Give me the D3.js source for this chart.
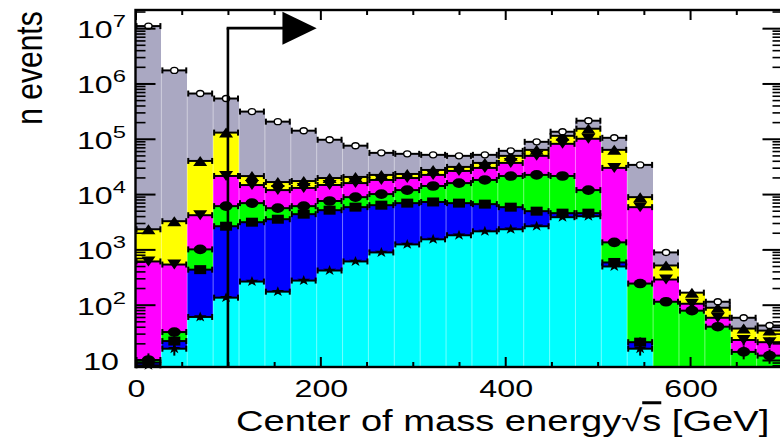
<!DOCTYPE html>
<html>
<head>
<meta charset="utf-8">
<script src="https://cdn.jsdelivr.net/npm/d3@7"></script>
<style>
  html, body { margin: 0; padding: 0; background: #fff; }
  svg { display: block; }
  text { font-family: "Liberation Sans", Arial, Helvetica, sans-serif; fill: #000; }
</style>
</head>
<body>
<svg id="chart" width="780" height="437"></svg>
<script>
// Histogram binning: 25 bins of 28 GeV between 0 and 700 GeV
const binWidth = 28;
const binStarts = d3.range(0, 700, binWidth);

// Events per bin for each stacked sample, listed bottom to top
const cyanCounts    = [8, 16, 60, 134, 262, 172, 273, 415, 605, 881, 1230, 1520, 1800, 2120, 2310, 2620, 3820, 3980, 491, 16, 0, 0, 0, 0, 0];
const blueCounts    = [1, 6, 370, 2490, 2840, 3340, 4060, 4700, 5200, 5420, 5630, 5680, 5060, 4460, 3490, 2290, 700, 540, 89, 5, 0, 0, 0, 0, 0];
const greenCounts   = [1, 10, 570, 3430, 3760, 2050, 1720, 2380, 3000, 3700, 4940, 6800, 8940, 11420, 15400, 17300, 16700, 7280, 760, 220, 113, 78, 40, 14, 12];
const magentaCounts = [595, 500, 3150, 15200, 7700, 6240, 6850, 7100, 7000, 8000, 7700, 8200, 10400, 11700, 15400, 26900, 59800, 88200, 28400, 5560, 172, 26, 18, 9, 9];
const yellowCounts  = [1705, 2700, 35600, 108000, 6600, 4700, 4300, 4900, 4600, 4200, 3600, 5100, 4800, 6900, 12500, 13900, 32000, 52000, 33300, 3000, 227, 61, 30, 14, 13];
const grayCounts    = [10900000, 1720000, 618000, 405000, 289000, 187500, 122800, 76500, 54600, 33400, 30300, 23900, 18100, 14600, 11400, 25000, 21000, 60000, 41000, 24900, 369, 0, 25, 21, 8];

// Axis labelling
const xTickValues = [0, 200, 400, 600];
const xMinorStep = 50;
const yTickExponents = [1, 2, 3, 4, 5, 6, 7];

// Selection cut: vertical line at the cut energy with an arrow pointing to the kept side
const cutEnergy = 100;
const arrowLevel = 1e7;
const arrowHeadStart = 159;
const arrowHeadTip = 196;

const layers = [
  { counts: cyanCounts,    color: "#00ffff", marker: "star" },
  { counts: blueCounts,    color: "#0000ff", marker: "square" },
  { counts: greenCounts,   color: "#00ff00", marker: "circle" },
  { counts: magentaCounts, color: "#ff00ff", marker: "down" },
  { counts: yellowCounts,  color: "#ffff00", marker: "up" },
  { counts: grayCounts,    color: "#aaa8c2", marker: "open" }
];

const svg = d3.select("#chart");
const plot = { left: 135.5, right: 782.5, top: 10, bottom: 367 };
const markerStretch = 1.25;
const labelStretch = 1.4;
const titleStretch = 1.27;

const x = d3.scaleLinear().domain([0, 700]).range([plot.left, plot.right]);
const yMin = 7.47, yMax = 2.13e7;
const y = d3.scaleLog().domain([yMin, yMax]).range([plot.bottom, plot.top]);
const yc = v => y(Math.max(yMin, Math.min(yMax, v)));

// Cumulative stack tops
let running = binStarts.map(() => 0);
layers.forEach(L => {
  L.lower = running.slice();
  L.upper = running.map((r, i) => r + L.counts[i]);
  running = L.upper;
});
const totals = running;

const g = svg.append("g");

// Filled histogram bars
layers.forEach(L => {
  g.append("g").selectAll("rect")
    .data(binStarts.map((s, i) => ({ s, lo: L.lower[i], hi: L.upper[i] })).filter(d => d.hi > d.lo && d.hi > yMin))
    .join("rect")
    .attr("x", d => x(d.s))
    .attr("width", d => x(d.s + binWidth) - x(d.s))
    .attr("y", d => yc(d.hi))
    .attr("height", d => yc(d.lo) - yc(d.hi))
    .attr("fill", L.color)
    .attr("shape-rendering", "crispEdges");
});

// Faint separators between neighbouring bins
g.append("g").selectAll("line")
  .data(d3.range(1, binStarts.length))
  .join("line")
  .attr("x1", i => x(binStarts[i])).attr("x2", i => x(binStarts[i]))
  .attr("y1", plot.bottom)
  .attr("y2", i => yc(Math.min(totals[i - 1], totals[i])))
  .attr("stroke", "rgba(255,255,255,0.45)")
  .attr("stroke-width", 1);

// Error bars and markers at each stack level
const markerG = g.append("g");
layers.forEach(L => {
  binStarts.forEach((s, i) => {
    if (L.counts[i] <= 0) return;
    const v = L.upper[i];
    if (v <= yMin) return;
    const cy = yc(v);
    const x0 = x(s), x1 = x(s + binWidth), cx = (x0 + x1) / 2;
    const err = Math.sqrt(v);
    const eg = markerG.append("g").attr("stroke", "#000").attr("stroke-width", 2).attr("fill", "none");
    eg.append("line").attr("x1", x0 + 1).attr("x2", x1 - 1).attr("y1", cy).attr("y2", cy);
    eg.append("line").attr("x1", x0 + 1).attr("x2", x0 + 1).attr("y1", cy - 3).attr("y2", cy + 3);
    eg.append("line").attr("x1", x1 - 1).attr("x2", x1 - 1).attr("y1", cy - 3).attr("y2", cy + 3);
    eg.append("line").attr("x1", cx).attr("x2", cx).attr("y1", yc(v + err)).attr("y2", yc(Math.max(v - err, yMin)));

    const m = markerG.append("g").attr("transform", `translate(${cx},${cy})`);
    switch (L.marker) {
      case "star":
        m.append("path").attr("d", d3.symbol(d3.symbolStar, 34)())
          .attr("transform", `scale(${markerStretch},1)`).attr("fill", "#000");
        break;
      case "square":
        m.append("rect").attr("x", -6).attr("y", -4.5).attr("width", 12).attr("height", 9).attr("fill", "#000");
        break;
      case "circle":
        m.append("ellipse").attr("rx", 6.5).attr("ry", 4.8).attr("fill", "#000");
        break;
      case "down":
        m.append("path").attr("d", "M-7,-5L7,-5L0,5Z").attr("fill", "#000");
        break;
      case "up":
        m.append("path").attr("d", "M-7,5L7,5L0,-5Z").attr("fill", "#000");
        break;
      case "open":
        m.append("ellipse").attr("rx", 3.6).attr("ry", 3).attr("fill", "#fff")
          .attr("stroke", "#000").attr("stroke-width", 1.4);
        break;
    }
  });
});

// Cut line and arrow
const cutG = svg.append("g");
cutG.append("line")
  .attr("x1", x(cutEnergy)).attr("x2", x(cutEnergy))
  .attr("y1", y(arrowLevel)).attr("y2", plot.bottom)
  .attr("stroke", "#000").attr("stroke-width", 2.6);
cutG.append("line")
  .attr("x1", x(cutEnergy) - 1.3).attr("x2", x(arrowHeadStart) + 1)
  .attr("y1", y(arrowLevel)).attr("y2", y(arrowLevel))
  .attr("stroke", "#000").attr("stroke-width", 2.6);
cutG.append("path")
  .attr("d", `M${x(arrowHeadStart)},${y(arrowLevel) - 16.5}L${x(arrowHeadTip)},${y(arrowLevel)}L${x(arrowHeadStart)},${y(arrowLevel) + 16.5}Z`)
  .attr("fill", "#000");

// Axes with inward ticks on all four sides
const yMajor = yTickExponents.map(e => Math.pow(10, e));
const yMinor = [];
for (let e = 0; e <= 7; e++) for (let k = 2; k <= 9; k++) {
  const v = k * Math.pow(10, e);
  if (v > yMin && v < yMax) yMinor.push(v);
}
const xMinor = d3.range(0, 701, xMinorStep).filter(v => v % 200 !== 0);

function styleAxis(sel, width) {
  sel.select(".domain").remove();
  sel.selectAll(".tick line").attr("stroke", "#000").attr("stroke-width", width);
  sel.selectAll(".tick text").remove();
}
const axG = svg.append("g");
axG.append("g").attr("transform", `translate(${plot.left},0)`)
  .call(d3.axisRight(y).tickValues(yMajor).tickSize(20).tickFormat("")).call(s => styleAxis(s, 2));
axG.append("g").attr("transform", `translate(${plot.left},0)`)
  .call(d3.axisRight(y).tickValues(yMinor).tickSize(10).tickFormat("")).call(s => styleAxis(s, 1.6));
axG.append("g").attr("transform", `translate(${plot.right},0)`)
  .call(d3.axisLeft(y).tickValues(yMajor).tickSize(20).tickFormat("")).call(s => styleAxis(s, 2));
axG.append("g").attr("transform", `translate(${plot.right},0)`)
  .call(d3.axisLeft(y).tickValues(yMinor).tickSize(10).tickFormat("")).call(s => styleAxis(s, 1.6));
axG.append("g").attr("transform", `translate(0,${plot.bottom})`)
  .call(d3.axisTop(x).tickValues([0, 200, 400, 600, 700]).tickSize(10).tickFormat("")).call(s => styleAxis(s, 2));
axG.append("g").attr("transform", `translate(0,${plot.bottom})`)
  .call(d3.axisTop(x).tickValues(xMinor).tickSize(5).tickFormat("")).call(s => styleAxis(s, 2));
axG.append("g").attr("transform", `translate(0,${plot.top})`)
  .call(d3.axisBottom(x).tickValues([0, 200, 400, 600, 700]).tickSize(10).tickFormat("")).call(s => styleAxis(s, 2));
axG.append("g").attr("transform", `translate(0,${plot.top})`)
  .call(d3.axisBottom(x).tickValues(xMinor).tickSize(5).tickFormat("")).call(s => styleAxis(s, 2));

// Frame
axG.append("rect")
  .attr("x", plot.left).attr("y", plot.top)
  .attr("width", plot.right - plot.left).attr("height", plot.bottom - plot.top)
  .attr("fill", "none").attr("stroke", "#000").attr("stroke-width", 2.4);

// Tick labels
const labelG = svg.append("g");
yTickExponents.forEach(e => {
  const t = labelG.append("text")
    .attr("transform", `translate(${e === 1 ? 119 : 126},${y(Math.pow(10, e)) + 10}) scale(${labelStretch},1)`)
    .attr("text-anchor", "end")
    .attr("font-size", 23);
  t.append("tspan").text("10");
  if (e > 1) t.append("tspan").attr("font-size", 17).attr("dy", -11).text(String(e));
});
xTickValues.forEach(v => {
  labelG.append("text")
    .attr("transform", `translate(${x(v) + 1},${plot.bottom + 30}) scale(${labelStretch},1)`)
    .attr("text-anchor", "middle")
    .attr("font-size", 23)
    .text(String(v));
});

// Axis titles
const xt = labelG.append("text")
  .attr("transform", `translate(236,431) scale(${titleStretch},1)`)
  .attr("font-size", 30);
xt.append("tspan").text("Center of mass energy\u221A");
xt.append("tspan").style("text-decoration", "overline").text("s");
xt.append("tspan").text(" [GeV]");

labelG.append("text")
  .attr("transform", `translate(42,68) scale(${markerStretch},1) rotate(-90)`)
  .attr("text-anchor", "middle")
  .attr("font-size", 30)
  .text("n events");
</script>
</body>
</html>
